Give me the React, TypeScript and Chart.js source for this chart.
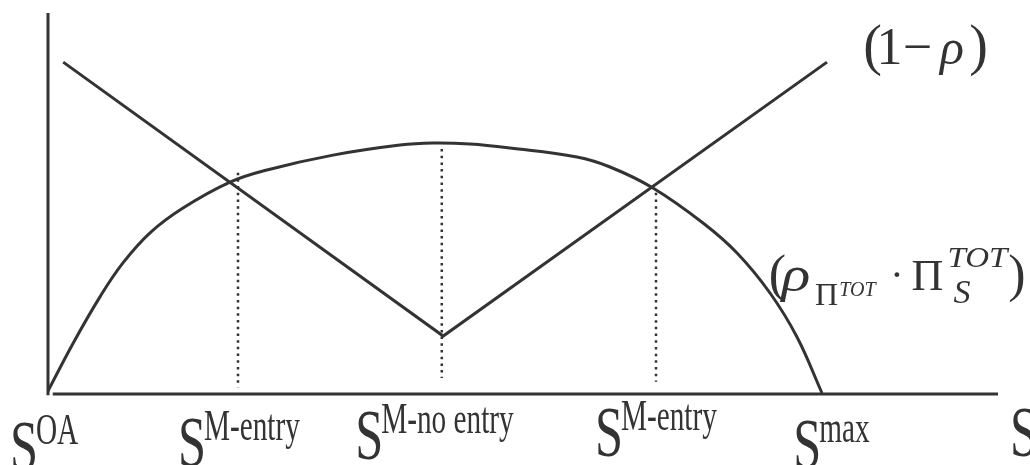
import React, { useEffect, useRef } from "react";
import { Chart, registerables } from "chart.js";

Chart.register(...registerables);

// ---- data (abstract units: x 0..100 along S, y 0..100) ----
const yAxisPoints = [{ x: 0, y: -0.3 }, { x: 0, y: 100 }];
const xAxisPoints = [{ x: 0.5, y: 0 }, { x: 100, y: 0 }];

const oneMinusRho = [
  { x: 1.6, y: 87.1 },
  { x: 41.6, y: 15.2 },
  { x: 82.0, y: 87.1 },
];

const rhoTimesProfit = [
  { x: 0.0, y: 0.8 },
  { x: 2.66, y: 13.4 },
  { x: 5.47, y: 25.5 },
  { x: 7.89, y: 34.4 },
  { x: 10.74, y: 42.3 },
  { x: 14.21, y: 48.8 },
  { x: 19.16, y: 55.6 },
  { x: 23.05, y: 58.8 },
  { x: 30.0, y: 62.7 },
  { x: 37.05, y: 65.35 },
  { x: 40.53, y: 65.88 },
  { x: 44.42, y: 65.62 },
  { x: 48.63, y: 64.57 },
  { x: 55.68, y: 62.2 },
  { x: 59.16, y: 59.58 },
  { x: 63.68, y: 54.07 },
  { x: 68.95, y: 44.88 },
  { x: 72.53, y: 37.01 },
  { x: 76.0, y: 26.51 },
  { x: 78.84, y: 14.96 },
  { x: 81.47, y: 0.26 },
];

const dropEntryLeft = [{ x: 20.0, y: 58.1 }, { x: 20.0, y: 1.8 }];
const dropNoEntry = [{ x: 41.45, y: 64.3 }, { x: 41.45, y: 4.2 }];
const dropEntryRight = [{ x: 64.0, y: 52.8 }, { x: 64.0, y: 3.2 }];

const tickValues = [0, 20.0, 41.5, 64.0, 81.5, 100];
const tickMain = ["S", "S", "S", "S", "S", "S"];
const tickSup = ["OA", "M-entry", "M-no entry", "M-entry", "max", ""];

// ---- styling ----
const INK = "#333333";
const SERIF = '"Liberation Serif", "Times New Roman", serif';

function drawText(
  ctx: CanvasRenderingContext2D,
  text: string,
  x: number,
  baseline: number,
  font: string,
  align: CanvasTextAlign,
  scaleX = 1
) {
  ctx.save();
  ctx.font = font;
  ctx.fillStyle = INK;
  ctx.textAlign = align;
  ctx.textBaseline = "alphabetic";
  ctx.translate(x, baseline);
  ctx.scale(scaleX, 1);
  ctx.fillText(text, 0, 0);
  ctx.restore();
}

// per-label nudges (S left edge relative to tick, baseline below axis)
const tickNudgeX = [-38, -60, -87, -61, -29, 12];
const tickNudgeY = [76, 72, 65, 62, 74, 62];

const labelsPlugin = {
  id: "econLabels",
  afterDatasetsDraw(chart: any) {
    const ctx: CanvasRenderingContext2D = chart.ctx;
    const xs = chart.scales.x;
    const ys = chart.scales.y;
    const axisY = ys.getPixelForValue(0);

    // x tick labels: big condensed S with superscript
    tickValues.forEach((v, i) => {
      const px = xs.getPixelForValue(v);
      const left = px + tickNudgeX[i];
      const base = axisY + tickNudgeY[i];
      drawText(ctx, tickMain[i], left, base, `72px ${SERIF}`, "left", 0.7);
      if (tickSup[i]) {
        drawText(ctx, tickSup[i], left + 26, base - 26, `45px ${SERIF}`, "left", 0.65);
      }
    });

    // (1 − ρ) at the end of the V line
    const end = oneMinusRho[oneMinusRho.length - 1];
    const ex = xs.getPixelForValue(end.x);
    const ey = ys.getPixelForValue(end.y);
    const b1 = ey + 2;
    drawText(ctx, "(", ex + 45.5, b1, `56px ${SERIF}`, "center");
    drawText(ctx, "1", ex + 62.5, b1, `52px ${SERIF}`, "center");
    drawText(ctx, "\u2212", ex + 90.5, b1, `52px ${SERIF}`, "center");
    drawText(ctx, "\u03C1", ex + 125, b1, `italic 50px ${SERIF}`, "center");
    drawText(ctx, ")", ex + 151.5, b1, `56px ${SERIF}`, "center");

    // (ρ_{Π^TOT} · Π_S^TOT) beside the falling part of the curve
    const ax = xs.getPixelForValue(100); // right end of S axis
    const b2 = axisY - 103;
    drawText(ctx, "(", ax - 220.5, b2, `52px ${SERIF}`, "center");
    drawText(ctx, "\u03C1", ax - 202, b2, `italic 50px ${SERIF}`, "center", 1.2);
    drawText(ctx, "\u03A0", ax - 171.5, b2 + 14, `32px ${SERIF}`, "center");
    drawText(ctx, "TOT", ax - 140.5, b2 + 5, `italic 20px ${SERIF}`, "center");
    drawText(ctx, "\u00B7", ax - 101, b2 - 3, `40px ${SERIF}`, "center");
    drawText(ctx, "\u03A0", ax - 70.5, b2 - 1, `44px ${SERIF}`, "center");
    drawText(ctx, "TOT", ax - 20.5, b2 - 24, `italic 30px ${SERIF}`, "center", 1.1);
    drawText(ctx, "S", ax - 36, b2 + 12, `italic 34px ${SERIF}`, "center");
    drawText(ctx, ")", ax + 19, b2, `52px ${SERIF}`, "center");
  },
};

export default function App() {
  const canvasRef = useRef<HTMLCanvasElement | null>(null);

  useEffect(() => {
    if (!canvasRef.current) return;
    const solid = (data: any[], width = 3) => ({
      data,
      borderColor: INK,
      borderWidth: width,
      pointRadius: 0,
      pointHoverRadius: 0,
      fill: false,
      tension: 0,
      clip: false as any,
      borderCapStyle: "butt" as CanvasLineCap,
    });
    const dotted = (data: any[]) => ({
      data,
      borderColor: INK,
      borderWidth: 2.5,
      borderDash: [2.5, 4.2],
      pointRadius: 0,
      pointHoverRadius: 0,
      fill: false,
      tension: 0,
      clip: false as any,
      borderCapStyle: "butt" as CanvasLineCap,
    });

    const chart = new Chart(canvasRef.current, {
      type: "line",
      data: {
        datasets: [
          solid(yAxisPoints, 3),
          solid(xAxisPoints, 3),
          dotted(dropEntryLeft),
          dotted(dropNoEntry),
          dotted(dropEntryRight),
          solid(oneMinusRho, 3),
          { ...solid(rhoTimesProfit, 3), tension: 0.4 },
        ] as any,
      },
      options: {
        animation: false,
        responsive: false,
        events: [],
        layout: {
          autoPadding: false,
          padding: { left: 48, right: 32, top: 13, bottom: 71 },
        } as any,
        plugins: {
          legend: { display: false },
          tooltip: { enabled: false },
          title: { display: false },
        },
        scales: {
          x: { type: "linear", min: 0, max: 100, display: false },
          y: { type: "linear", min: 0, max: 100, display: false },
        },
      },
      plugins: [labelsPlugin],
    });
    return () => chart.destroy();
  }, []);

  return (
    <div
      style={{
        position: "fixed",
        left: 0,
        top: 0,
        width: 1030,
        height: 465,
        background: "#ffffff",
        overflow: "hidden",
      }}
    >
      <canvas ref={canvasRef} width={1030} height={465} style={{ display: "block" }} />
    </div>
  );
}
